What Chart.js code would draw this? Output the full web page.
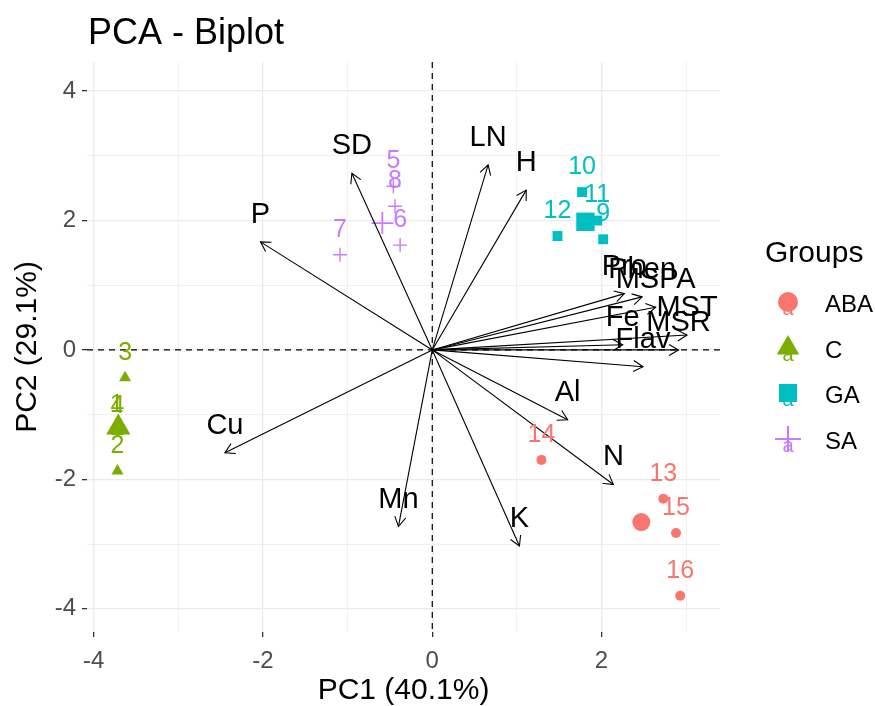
<!DOCTYPE html>
<html><head><meta charset="utf-8">
<script src="https://cdn.jsdelivr.net/npm/chart.js@4/dist/chart.umd.min.js"></script>
<style>html,body{margin:0;padding:0;background:#fff}canvas{display:block}</style>
</head><body>
<canvas id="c" width="875" height="706"></canvas>
<script>
// ---------- data ----------
const groupNames = ['ABA', 'C', 'GA', 'SA'];
const groupColors = ['#F8766D', '#7CAE00', '#00BFC4', '#C77CFF'];
const groupShapes = ['circle', 'triangle', 'rect', 'cross'];

const abaIds = ['13', '14', '15', '16'];
const abaX = [2.73, 1.29, 2.88, 2.93];
const abaY = [-2.30, -1.70, -2.83, -3.80];

const cIds = ['1', '2', '3', '4'];
const cX = [-3.73, -3.72, -3.63, -3.72];
const cY = [-1.24, -1.87, -0.43, -1.26];

const gaIds = ['9', '10', '11', '12'];
const gaX = [2.02, 1.77, 1.95, 1.48];
const gaY = [1.71, 2.44, 2.00, 1.76];

const saIds = ['5', '6', '7', '8'];
const saX = [-0.46, -0.38, -1.09, -0.44];
const saY = [2.53, 1.62, 1.47, 2.22];

const meanX = [2.47, -3.71, 1.81, -0.59];
const meanY = [-2.66, -1.20, 1.98, 1.96];

const varNames = ['SD', 'LN', 'H', 'P', 'Cu', 'Mn', 'K', 'N', 'Al', 'Pro', 'Phen', 'MSPA', 'MST', 'Fe', 'MSR', 'Flav'];
const varX = [-0.95, 0.66, 1.11, -2.03, -2.45, -0.40, 1.03, 2.14, 1.60, 2.27, 2.48, 2.64, 3.01, 2.25, 2.91, 2.49];
const varY = [2.73, 2.86, 2.47, 1.67, -1.59, -2.73, -3.03, -2.08, -1.08, 0.87, 0.82, 0.66, 0.23, 0.08, 0.00, -0.26];

const xGridValues = [-4, -3, -2, -1, 0, 1, 2, 3];
const yGridValues = [-4, -3, -2, -1, 0, 1, 2, 3, 4];
const xTickLabels = [-4, -2, 0, 2];
const yTickLabels = [-4, -2, 0, 2, 4];

const titleText = 'PCA - Biplot';
const xTitle = 'PC1 (40.1%)';
const yTitle = 'PC2 (29.1%)';
const legendTitle = 'Groups';

// ---------- build datasets ----------
const FONT = "'Liberation Sans', Arial, sans-serif";
const groupX = [abaX, cX, gaX, saX];
const groupY = [abaY, cY, gaY, saY];
const groupIds = [abaIds, cIds, gaIds, saIds];
const smallR = [5, 7, 7, 7];
const bigR = [9, 14, 13, 11];

const datasets = [];
groupNames.forEach((g, i) => {
  datasets.push({
    type: 'scatter', label: g, order: 3,
    data: groupX[i].map((x, k) => ({ x, y: groupY[i][k], id: groupIds[i][k] })),
    pointStyle: groupShapes[i], pointRadius: smallR[i],
    backgroundColor: groupColors[i], borderColor: groupColors[i],
    borderWidth: groupShapes[i] === 'cross' ? 1.4 : 0
  });
  datasets.push({
    type: 'scatter', label: g + ' mean', order: 3,
    data: [{ x: meanX[i], y: meanY[i] }],
    pointStyle: groupShapes[i], pointRadius: bigR[i],
    backgroundColor: groupColors[i], borderColor: groupColors[i],
    borderWidth: groupShapes[i] === 'cross' ? 1.8 : 0
  });
});
varNames.forEach((v, i) => {
  datasets.push({
    type: 'line', label: v, order: 1,
    data: [{ x: 0, y: 0 }, { x: varX[i], y: varY[i] }],
    borderColor: '#000', borderWidth: 1.1, pointRadius: 0, fill: false, tension: 0
  });
});

// ---------- plugins ----------
const zeroLines = {
  id: 'zeroLines',
  beforeDatasetsDraw(chart) {
    const { ctx, chartArea: a, scales: { x, y } } = chart;
    ctx.save();
    ctx.strokeStyle = '#000'; ctx.lineWidth = 1.2; ctx.setLineDash([6, 5]);
    const px = x.getPixelForValue(0), py = y.getPixelForValue(0);
    ctx.beginPath(); ctx.moveTo(px, a.top); ctx.lineTo(px, a.bottom); ctx.stroke();
    ctx.beginPath(); ctx.moveTo(a.left, py); ctx.lineTo(a.right, py); ctx.stroke();
    ctx.restore();
  }
};

const overlay = {
  id: 'overlay',
  afterDatasetsDraw(chart) {
    const { ctx, scales: { x, y } } = chart;
    ctx.save();
    ctx.strokeStyle = '#000'; ctx.lineWidth = 1.1;
    const ox = x.getPixelForValue(0), oy = y.getPixelForValue(0);
    varNames.forEach((v, i) => {
      const tx = x.getPixelForValue(varX[i]), ty = y.getPixelForValue(varY[i]);
      const ang = Math.atan2(ty - oy, tx - ox);
      const L = 11, h = Math.PI / 6;
      ctx.beginPath();
      ctx.moveTo(tx - L * Math.cos(ang - h), ty - L * Math.sin(ang - h));
      ctx.lineTo(tx, ty);
      ctx.lineTo(tx - L * Math.cos(ang + h), ty - L * Math.sin(ang + h));
      ctx.stroke();
    });
    ctx.textAlign = 'center'; ctx.textBaseline = 'middle';
    ctx.font = '25px ' + FONT;
    groupNames.forEach((g, i) => {
      ctx.fillStyle = groupColors[i];
      groupX[i].forEach((vx, k) => {
        ctx.fillText(groupIds[i][k], x.getPixelForValue(vx), y.getPixelForValue(groupY[i][k]) - 25);
      });
    });
    ctx.fillStyle = '#000';
    ctx.font = '29px ' + FONT;
    varNames.forEach((v, i) => {
      ctx.fillText(v, x.getPixelForValue(varX[i]), y.getPixelForValue(varY[i]) - 27);
    });
    ctx.restore();
  },
  afterDraw(chart) {
    const { ctx, chartArea: a } = chart;
    ctx.save();
    ctx.fillStyle = '#000';
    ctx.textAlign = 'left'; ctx.textBaseline = 'middle';
    ctx.font = '36px ' + FONT;
    ctx.fillText(titleText, a.left + 1, 34);
    ctx.textAlign = 'center';
    ctx.font = '30px ' + FONT;
    ctx.fillText(xTitle, (a.left + a.right) / 2, 691);
    ctx.save();
    ctx.translate(28, (a.top + a.bottom) / 2);
    ctx.rotate(-Math.PI / 2);
    ctx.fillText(yTitle, 0, 0);
    ctx.restore();
    ctx.textAlign = 'left';
    ctx.font = '30px ' + FONT;
    ctx.fillText(legendTitle, 765, 254);
    const keyY = [304, 350, 395, 441];
    const keyR = [10, 13, 12, 13];
    groupNames.forEach((g, i) => {
      const cx = 788, cy = keyY[i] - 2;
      ctx.fillStyle = groupColors[i]; ctx.strokeStyle = groupColors[i];
      ctx.lineWidth = groupShapes[i] === 'cross' ? 2.2 : 1;
      ctx.beginPath();
      if (groupShapes[i] === 'circle') { ctx.arc(cx, cy, keyR[i], 0, Math.PI * 2); ctx.fill(); }
      else if (groupShapes[i] === 'triangle') {
        const r = keyR[i];
        ctx.moveTo(cx, cy - r); ctx.lineTo(cx + r * 0.866, cy + r / 2); ctx.lineTo(cx - r * 0.866, cy + r / 2); ctx.closePath(); ctx.fill();
      } else if (groupShapes[i] === 'rect') {
        const s = keyR[i] * 0.75; ctx.fillRect(cx - s, cy - s, 2 * s, 2 * s);
      } else {
        const r = keyR[i]; ctx.moveTo(cx - r, cy); ctx.lineTo(cx + r, cy); ctx.moveTo(cx, cy - r); ctx.lineTo(cx, cy + r); ctx.stroke();
      }
      ctx.font = '20px ' + FONT; ctx.textAlign = 'center';
      ctx.fillText('a', cx, cy + 7);
      ctx.fillStyle = '#000'; ctx.textAlign = 'left';
      ctx.font = '24px ' + FONT;
      ctx.fillText(g, 825, keyY[i] + 1);
    });
    ctx.restore();
  }
};

function axis(min, max, gridValues, labels, isX) {
  const major = c => c.tick && labels.includes(c.tick.value);
  return {
    type: 'linear', min, max,
    border: { display: false },
    afterBuildTicks: s => { s.ticks = gridValues.map(v => ({ value: v })); },
    afterFit: s => { if (isX) s.height = 74; else s.width = 87; },
    grid: {
      color: '#EBEBEB',
      lineWidth: c => major(c) ? 1.3 : 0.7,
      tickColor: c => major(c) ? '#333333' : 'rgba(0,0,0,0)',
      tickLength: 5, drawTicks: true
    },
    ticks: {
      autoSkip: false, maxRotation: 0,
      color: '#4D4D4D', font: { family: FONT, size: 24 }, padding: isX ? 10 : 6,
      callback: v => labels.includes(v) ? String(v) : ''
    }
  };
}

new Chart(document.getElementById('c'), {
  data: { datasets },
  options: {
    responsive: false, animation: false, devicePixelRatio: 1,
    layout: { padding: { left: 0, top: 62, right: 155, bottom: 0 } },
    plugins: { legend: { display: false }, tooltip: { enabled: false }, title: { display: false } },
    scales: {
      x: axis(-4.08, 3.40, xGridValues, xTickLabels, true),
      y: axis(-4.36, 4.45, yGridValues, yTickLabels, false)
    }
  },
  plugins: [zeroLines, overlay]
});
</script>
</body></html>
